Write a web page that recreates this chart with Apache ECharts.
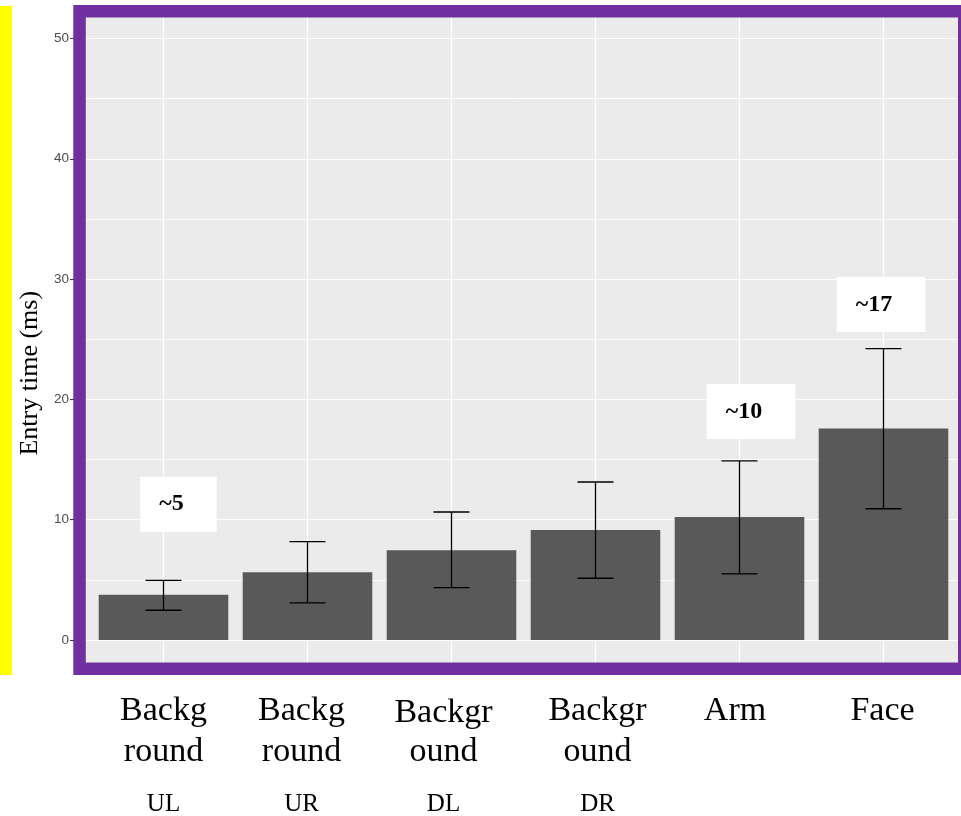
<!DOCTYPE html>
<html>
<head>
<meta charset="utf-8">
<script src="https://cdn.jsdelivr.net/npm/echarts@6/dist/echarts.min.js"></script>
<style>
html,body{margin:0;padding:0;background:#fff;}
#chart{width:961px;height:816px;}
</style>
</head>
<body>
<div id="chart"></div>
<script>
// ---- data ----
var catLine1 = ['Backg', 'Backg', 'Backgr', 'Backgr', 'Arm', 'Face'];
var catLine2 = ['round', 'round', 'ound', 'ound', '', ''];
var catLine3 = ['UL', 'UR', 'DL', 'DR', '', ''];
var meanValues = [3.75, 5.62, 7.45, 9.14, 10.22, 17.57];
var upperValues = [4.96, 8.17, 10.64, 13.13, 14.88, 24.22];
var lowerValues = [2.47, 3.08, 4.35, 5.13, 5.49, 10.91];
var majorTicks = [0, 10, 20, 30, 40, 50];
var minorTicks = [5, 15, 25, 35, 45];
var annotText = ['~5', '~10', '~17'];
var annotX = [0.104, 4.08, 4.983];
var annotY = [11.29, 18.99, 27.89];
var yTitle = 'Entry time (ms)';

var catIndex = meanValues.map(function (v, i) { return i; });
var serif = "'Liberation Serif','Times New Roman',serif";

// label placement nudges (px): [horizontal, vertical] per category
var labelNudge = [[0, 0], [-6, 0], [-8, 4], [2, 0], [-4.5, 0], [-1, 0]];
var richStyles = {};
labelNudge.forEach(function (n, i) {
  var h = n[0], v = n[1];
  var padH = h < 0 ? [0, -2 * h, 0, 0] : [0, 0, 0, 2 * h];
  richStyles['a' + i] = {fontFamily: serif, fontSize: 34, lineHeight: 41, color: '#000',
    padding: [v, padH[1], 0, padH[3]]};
  richStyles['c' + i] = {fontFamily: serif, fontSize: 34, lineHeight: 41, color: '#000',
    padding: [0, padH[1], 0, padH[3]]};
  richStyles['b' + i] = {fontFamily: serif, fontSize: 25, lineHeight: 62, color: '#000',
    padding: [0, padH[1], 0, padH[3]]};
});

var chart = echarts.init(document.getElementById('chart'), null, {renderer: 'canvas'});

var option = {
  animation: false,
  backgroundColor: '#ffffff',
  grid: {
    left: 77.1, top: 8.4, width: 892.8, height: 661.65,
    show: true, backgroundColor: '#EBEBEB', borderWidth: 0,
    containLabel: false, outerBoundsMode: 'none'
  },
  xAxis: {
    type: 'value', min: -0.6, max: 5.6,
    axisLine: {show: false, onZero: false},
    axisTick: {show: false, customValues: catIndex},
    splitLine: {show: true, lineStyle: {color: '#FFFFFF', width: 1.2}},
    axisLabel: {
      customValues: catIndex,
      margin: 21,
      formatter: function (v) {
        var i = Math.round(v);
        var s = '{a' + i + '|' + catLine1[i] + '}';
        if (catLine2[i]) s += '\n{c' + i + '|' + catLine2[i] + '}';
        if (catLine3[i]) s += '\n{b' + i + '|' + catLine3[i] + '}';
        return s;
      },
      rich: richStyles
    }
  },
  yAxis: [{
    type: 'value', min: -2.5, max: 52.5,
    name: yTitle, nameLocation: 'middle', nameGap: 31,
    nameTextStyle: {fontFamily: serif, fontSize: 26, color: '#000', padding: [0, 68, 0, 0]},
    axisLine: {show: false, onZero: false},
    axisTick: {show: true, length: 7, customValues: majorTicks, lineStyle: {color: '#333333', width: 1}},
    axisLabel: {customValues: majorTicks, margin: 8, fontSize: 13.5, color: '#4D4D4D', fontFamily: 'Liberation Sans, Arial, sans-serif'},
    splitLine: {show: true, lineStyle: {color: '#FFFFFF', width: 1.2}}
  }, {
    type: 'value', min: -2.5, max: 52.5, position: 'left',
    axisLine: {show: false, onZero: false},
    axisTick: {show: false, customValues: minorTicks},
    axisLabel: {show: false, customValues: minorTicks},
    splitLine: {show: true, lineStyle: {color: '#FFFFFF', width: 1}}
  }],
  series: [{
    type: 'bar',
    yAxisIndex: 0,
    barWidth: 129.6,
    itemStyle: {color: '#595959'},
    data: meanValues.map(function (v, i) { return [i, v]; }),
    z: 2
  }, {
    type: 'custom',
    yAxisIndex: 0,
    data: meanValues.map(function (v, i) { return [i, lowerValues[i], upperValues[i]]; }),
    renderItem: function (params, api) {
      var x = api.value(0);
      var lo = api.coord([x, api.value(1)]);
      var hi = api.coord([x, api.value(2)]);
      var l = api.coord([x - 0.125, 0])[0];
      var r = api.coord([x + 0.125, 0])[0];
      var st = {stroke: '#000', lineWidth: 1.3};
      return {
        type: 'group',
        children: [
          {type: 'line', shape: {x1: lo[0], y1: lo[1], x2: hi[0], y2: hi[1]}, style: st},
          {type: 'line', shape: {x1: l, y1: hi[1], x2: r, y2: hi[1]}, style: st},
          {type: 'line', shape: {x1: l, y1: lo[1], x2: r, y2: lo[1]}, style: st}
        ]
      };
    },
    z: 3
  }, {
    type: 'scatter',
    yAxisIndex: 0,
    symbolSize: 1,
    itemStyle: {color: 'rgba(0,0,0,0)', opacity: 1},
    emphasis: {disabled: true},
    data: annotText.map(function (t, i) { return [annotX[i], annotY[i]]; }),
    label: {
      show: true, position: 'inside',
      formatter: function (p) { return annotText[p.dataIndex]; },
      fontFamily: serif, fontWeight: 'bold', fontSize: 24, lineHeight: 25,
      color: '#000', backgroundColor: '#FFFFFF', opacity: 1,
      padding: [15, 33, 15, 19]
    },
    z: 4
  }],
  graphic: [
    {type: 'rect', z: 100, silent: true,
     shape: {x: 0, y: 6, width: 12, height: 669},
     style: {fill: '#FFFF00'}},
    {type: 'rect', z: 100, silent: true,
     shape: {x: 79.55, y: 11.25, width: 884.7, height: 657.5},
     style: {fill: 'none', stroke: '#7030A0', lineWidth: 12.5}}
  ]
};
chart.setOption(option);
</script>
</body>
</html>
